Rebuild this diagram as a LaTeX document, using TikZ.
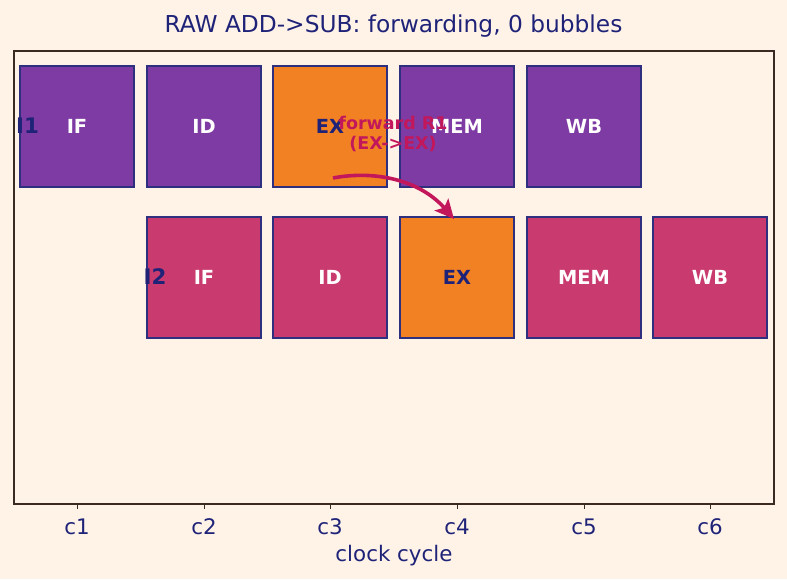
\documentclass[tikz,border=0pt]{standalone}
\usepackage{fontspec}
\setmainfont{DejaVu Sans}
\usetikzlibrary{arrows.meta}
\definecolor{bg}{HTML}{FFF3E8}
\definecolor{navy}{HTML}{1F2378}
\definecolor{edge}{HTML}{2E2F7E}
\definecolor{purp}{HTML}{7E3BA3}
\definecolor{mag}{HTML}{C93A6E}
\definecolor{orng}{HTML}{F28123}
\definecolor{crim}{HTML}{C2185B}
\definecolor{frame}{HTML}{3B2A22}
\tikzset{
  stage/.style={draw=edge, line width=1.2pt, minimum width=114pt, minimum height=121pt, inner sep=0pt, font=\fontsize{19.4}{22}\selectfont\bfseries, text=white},
  hot/.style={fill=orng, text=navy},
  p1/.style={fill=purp},
  p2/.style={fill=mag},
  ilab/.style={font=\fontsize{21.4}{24}\selectfont\bfseries, text=navy},
  tick/.style={font=\fontsize{21.4}{24}\selectfont, text=navy}
}
\begin{document}
\begin{tikzpicture}[x=1pt,y=-1pt]
\fill[bg] (0,0) rectangle (787,579);
\useasboundingbox (0,0) rectangle (787,579);
\node[font=\fontsize{23.3}{26}\selectfont, text=navy] (title) at (393.5,26) {RAW ADD->SUB: forwarding, 0 bubbles};
% row 1
\node[stage,p1] (a1) at (77,126.5) {IF};
\node[stage,p1] (a2) at (204,126.5) {ID};
\node[stage,hot] (a3) at (330,126.5) {EX};
\node[stage,p1] (a4) at (457,126.5) {MEM};
\node[stage,p1] (a5) at (584,126.5) {WB};
% row 2
\node[stage,p2] (b2) at (204,277.5) {IF};
\node[stage,p2] (b3) at (330,277.5) {ID};
\node[stage,hot] (b4) at (457,277.5) {EX};
\node[stage,p2] (b5) at (584,277.5) {MEM};
\node[stage,p2] (b6) at (710,277.5) {WB};
\node[ilab] (i1) at (27.5,126) {I1};
\node[ilab] (i2) at (155,277) {I2};
% frame
\draw[frame, line width=1.2pt] (14,51) rectangle (774,504);
\foreach \x/\l in {77/c1,204/c2,330/c3,457/c4,584/c5,710/c6}{
  \draw[frame, line width=1pt] (\x,504) -- (\x,509);
  \node[tick] (t\l) at (\x,527) {\l};
}
\node[tick] (xl) at (394,556) {clock cycle};
% forward
\coordinate (fs) at (333,178);
\coordinate (fe) at (454,219);
\draw[crim, line width=3.6pt, -{Stealth[length=19pt,width=18pt,inset=4pt]}] (fs) .. controls (375,170) and (420,180) .. (fe);
\node[text=crim, font=\fontsize{17.5}{20}\selectfont\bfseries, align=center] (fl) at (393,134) {forward R1\\(EX->EX)};
\end{tikzpicture}
\end{document}
